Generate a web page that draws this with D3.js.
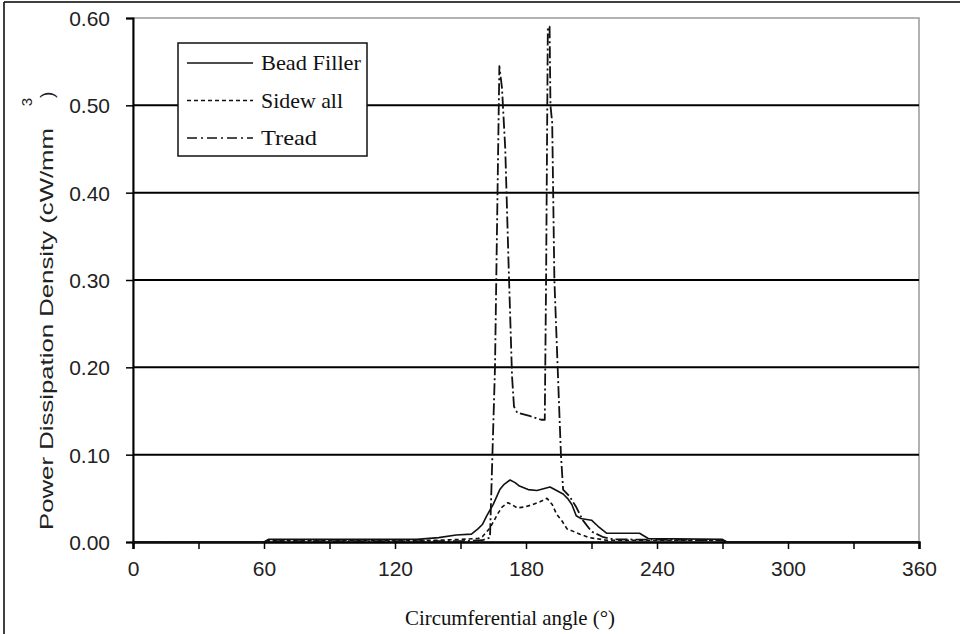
<!DOCTYPE html>
<html><head><meta charset="utf-8">
<script src="https://cdn.jsdelivr.net/npm/d3@7"></script>
<style>
body{margin:0;background:#fff;}
svg{display:block;}
</style></head>
<body>
<svg id="chart" width="960" height="634"></svg>
<script>
// ---- data ----
const xTicks = [0, 60, 120, 180, 240, 300, 360];
const xMinorTicks = [0, 30, 60, 90, 120, 150, 180, 210, 240, 270, 300, 330, 360];
const yTicks = [0, 0.1, 0.2, 0.3, 0.4, 0.5, 0.6];
const seriesNames = ["Bead Filler", "Sidew all", "Tread"];

const beadAngle = [0, 60, 62, 100, 130, 140, 148, 155, 158, 160, 162, 165, 168, 170, 172.7, 175, 177, 181, 185, 188, 191, 194, 197, 199, 201, 203, 205, 210, 213, 217, 232, 236, 270, 272, 360];
const beadValue = [0, 0, 0.003, 0.003, 0.003, 0.005, 0.008, 0.009, 0.015, 0.02, 0.03, 0.043, 0.06, 0.066, 0.071, 0.068, 0.064, 0.06, 0.059, 0.061, 0.063, 0.059, 0.055, 0.05, 0.043, 0.03, 0.027, 0.025, 0.018, 0.01, 0.01, 0.004, 0.003, 0, 0];

const sideAngle = [0, 60, 62, 140, 150, 158, 160, 163.5, 167, 169, 171.8, 174, 176, 179, 182, 186.4, 189.6, 192, 194, 196.5, 198.8, 204.7, 209, 217, 270, 272, 360];
const sideValue = [0, 0, 0.002, 0.002, 0.003, 0.004, 0.006, 0.016, 0.032, 0.04, 0.045, 0.042, 0.039, 0.04, 0.042, 0.046, 0.05, 0.043, 0.032, 0.024, 0.015, 0.009, 0.005, 0.002, 0.002, 0, 0];

const treadAngle = [0, 60, 62, 150, 160, 163.5, 165.8, 167.8, 169, 170.5, 172, 173.6, 174.5, 176, 182, 187, 188.6, 189.2, 190, 190.8, 191.2, 192, 193, 194.5, 196, 197, 200, 203, 206, 210, 215, 220, 270, 272, 360];
const treadValue = [0, 0, 0.001, 0.001, 0.002, 0.005, 0.2, 0.545, 0.52, 0.45, 0.32, 0.19, 0.155, 0.148, 0.144, 0.14, 0.14, 0.3, 0.59, 0.59, 0.5, 0.48, 0.3, 0.2, 0.1, 0.06, 0.052, 0.04, 0.025, 0.012, 0.006, 0.003, 0.002, 0, 0];

// ---- layout ----
const svg = d3.select("#chart");
const x0 = 133, x1 = 919, yBottom = 542, yTop = 18;
const x = d3.scaleLinear().domain([0, 360]).range([x0, x1]);
const y = d3.scaleLinear().domain([0, 0.6]).range([yBottom, yTop]);

// outer border (left and top)
svg.append("line").attr("x1", 4).attr("x2", 4).attr("y1", 2).attr("y2", 634).attr("stroke", "#000").attr("stroke-width", 1.5);
svg.append("line").attr("x1", 4).attr("x2", 960).attr("y1", 2).attr("y2", 2).attr("stroke", "#000").attr("stroke-width", 1.5);

// plot frame (gray)
svg.append("rect").attr("x", x0).attr("y", yTop).attr("width", x1 - x0).attr("height", yBottom - yTop)
  .attr("fill", "none").attr("stroke", "#999").attr("stroke-width", 1.5);

// gridlines
svg.append("g").selectAll("line").data(yTicks.filter(v => v > 0 && v < 0.6)).join("line")
  .attr("x1", x0).attr("x2", x1).attr("y1", d => y(d)).attr("y2", d => y(d))
  .attr("stroke", "#000").attr("stroke-width", 2);

// axes
const yAxis = d3.axisLeft(y).tickValues(yTicks).tickSize(7).tickFormat(d3.format(".2f"));
const gy = svg.append("g").attr("transform", `translate(${x0},0)`).call(yAxis);
gy.select(".domain").attr("stroke-width", 2);
gy.selectAll(".tick line").attr("stroke-width", 1.5);
gy.selectAll("text").attr("font-family", "'Liberation Sans', Arial, sans-serif").attr("font-size", 21)
  .attr("fill", "#222").attr("x", -23).attr("dy", "0.36em");

const xAxis = d3.axisBottom(x).tickValues(xMinorTicks).tickSize(7).tickFormat(d => xTicks.includes(d) ? d : "");
const gx = svg.append("g").attr("transform", `translate(0,${yBottom})`).call(xAxis);
gx.select(".domain").attr("stroke-width", 2.5);
gx.selectAll(".tick line").attr("stroke-width", 1.5);
gx.selectAll("text").attr("font-family", "'Liberation Sans', Arial, sans-serif").attr("font-size", 21)
  .attr("fill", "#222").attr("y", 26).attr("dy", "0.36em");

// series
const line = d3.line().x(d => x(d[0])).y(d => y(d[1]));
const series = [
  {angle: beadAngle, value: beadValue, dash: null, width: 1.6},
  {angle: sideAngle, value: sideValue, dash: "4,3", width: 1.6},
  {angle: treadAngle, value: treadValue, dash: "12,3,2,3", width: 1.8}
];
series.forEach(s => {
  svg.append("path").datum(d3.zip(s.angle, s.value)).attr("d", line)
    .attr("fill", "none").attr("stroke", "#111").attr("stroke-width", s.width)
    .attr("stroke-dasharray", s.dash).attr("stroke-linejoin", "round");
});

// legend
const legendTextLen = [100, 82, 56];
const lg = svg.append("g");
lg.append("rect").attr("x", 178).attr("y", 43).attr("width", 189).attr("height", 113)
  .attr("fill", "#fff").attr("stroke", "#111").attr("stroke-width", 1.5);
seriesNames.forEach((name, i) => {
  const yy = 63 + i * 37.5;
  lg.append("line").attr("x1", 187).attr("x2", 253).attr("y1", yy).attr("y2", yy)
    .attr("stroke", "#111").attr("stroke-width", 1.6).attr("stroke-dasharray", i === 2 ? "10,4,2,4" : series[i].dash);
  lg.append("text").attr("x", 261).attr("y", yy + 7).text(name)
    .attr("textLength", legendTextLen[i]).attr("lengthAdjust", "spacingAndGlyphs")
    .attr("font-family", "'Liberation Serif', 'Times New Roman', serif").attr("font-size", 21).attr("fill", "#111");
});

// axis titles
svg.append("text").attr("x", 510).attr("y", 625).attr("text-anchor", "middle")
  .attr("textLength", 210).attr("lengthAdjust", "spacingAndGlyphs")
  .attr("font-family", "'Liberation Serif', 'Times New Roman', serif").attr("font-size", 21).attr("fill", "#111")
  .text("Circumferential angle (°)");

const yFont = "'Liberation Sans', Arial, sans-serif";
svg.append("text").attr("transform", "translate(53,530) rotate(-90)")
  .attr("textLength", 402).attr("lengthAdjust", "spacingAndGlyphs")
  .attr("font-family", yFont).attr("font-size", 19).attr("fill", "#222")
  .text("Power Dissipation Density (cW/mm");
svg.append("text").attr("transform", "translate(32,102) rotate(-90)").attr("text-anchor", "middle")
  .attr("font-family", yFont).attr("font-size", 15).attr("fill", "#222").text("3");
svg.append("text").attr("transform", "translate(53,98) rotate(-90)")
  .attr("font-family", yFont).attr("font-size", 19).attr("fill", "#222").text(")");
</script>
</body></html>
